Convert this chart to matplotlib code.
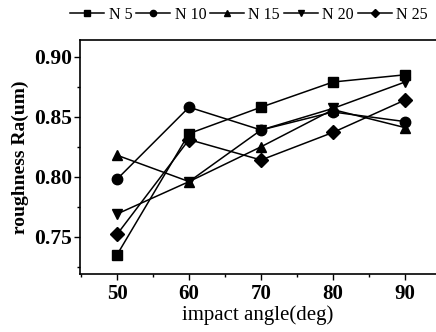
import numpy as np
import matplotlib.pyplot as plt
from matplotlib.ticker import MultipleLocator

# data
angle = [50, 60, 70, 80, 90]
n5 = [0.735, 0.836, 0.858, 0.879, 0.885]
n10 = [0.798, 0.858, 0.839, 0.854, 0.846]
n15 = [0.818, 0.796, 0.825, 0.856, 0.841]
n20 = [0.769, 0.796, 0.839, 0.857, 0.879]
n25 = [0.752, 0.831, 0.814, 0.837, 0.864]

labels = ["N 5", "N 10", "N 15", "N 20", "N 25"]
markers = ["s", "o", "^", "v", "D"]

plt.rcParams['font.family'] = ['Liberation Serif', 'DejaVu Serif']

fig = plt.figure(figsize=(4.36, 3.32), dpi=100)
ax = fig.add_axes([0.1835, 0.1747, 0.8165, 0.7048])

for series, lab, m in zip([n5, n10, n15, n20, n25], labels, markers):
    ms = 7 if m == "D" else 7.5
    ax.plot(angle, series, color="black", lw=1.1, marker=m, ms=ms, label=lab)

ax.set_xlim(44.86, 94.3)
ax.set_ylim(0.719, 0.914)
ax.xaxis.set_major_locator(MultipleLocator(10))
ax.xaxis.set_minor_locator(MultipleLocator(5))
ax.yaxis.set_major_locator(MultipleLocator(0.05))
ax.yaxis.set_minor_locator(MultipleLocator(0.025))
ax.yaxis.set_major_formatter(plt.FormatStrFormatter("%.2f"))
ax.tick_params(which="both", direction="out", width=1, labelsize=15, pad=3)
ax.tick_params(axis="y", labelsize=15.5, pad=1.5)
ax.tick_params(which="major", length=4)
ax.tick_params(which="minor", length=2.5)
for lab in ax.get_xticklabels() + ax.get_yticklabels():
    lab.set_fontweight("bold")
ax.spines["right"].set_visible(False)
for s in ["left", "bottom", "top"]:
    ax.spines[s].set_linewidth(1.2)

ax.set_xlabel("impact angle(deg)", fontsize=15, labelpad=1)
ax.set_ylabel("roughness Ra(um)", fontsize=14, fontweight="bold", labelpad=4)

ax.legend(loc="center", bbox_to_anchor=(0.475, 1.107), ncol=5, frameon=False,
          fontsize=11.5, handlelength=2.1, handletextpad=0.3, columnspacing=0.25,
          markerscale=0.6, borderaxespad=0.0, borderpad=0.0)

fig.savefig("out.png", dpi=100)
